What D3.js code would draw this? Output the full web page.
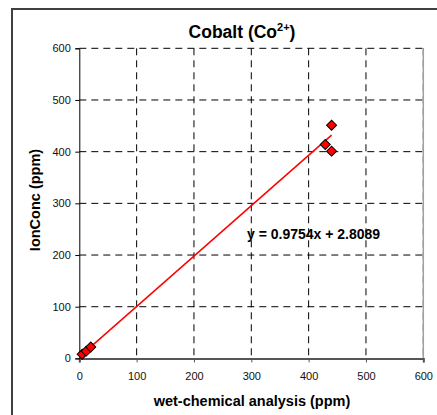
<!DOCTYPE html>
<html>
<head>
<meta charset="utf-8">
<script src="https://cdn.jsdelivr.net/npm/d3@7"></script>
<style>
  body { margin: 0; background: #fff; }
  svg { display: block; font-family: Arial, "Liberation Sans", sans-serif; }
</style>
</head>
<body>
<script>
// measured points (wet-chemical vs ion-selective)
var wetChem = [5, 12, 20, 429, 440, 440];
var ionConc = [8, 14, 22, 414, 401, 451];
var xTicks = [0, 100, 200, 300, 400, 500, 600];
var yTicks = [0, 100, 200, 300, 400, 500, 600];
var slope = 0.9754, intercept = 2.8089;

var width = 437, height = 415;
var svg = d3.select("body").append("svg").attr("width", width).attr("height", height);

// chart area frame (runs off the right/bottom edge)
svg.append("rect")
  .attr("x", 12).attr("y", 9)
  .attr("width", 440).attr("height", 420)
  .attr("fill", "#fff").attr("stroke", "#404040").attr("stroke-width", 2);

var x = d3.scaleLinear().domain([0, 600]).range([79.3, 423.3]);
var y = d3.scaleLinear().domain([0, 600]).range([358.4, 48.3]);

// grid
var grid = svg.append("g").attr("stroke", "#000").attr("stroke-width", 1).attr("stroke-dasharray", "7,5");
grid.selectAll(".gx").data(xTicks.slice(1)).join("line")
  .attr("x1", (d) => x(d)).attr("x2", (d) => x(d))
  .attr("y1", y(600)).attr("y2", y(0));
grid.selectAll(".gy").data(yTicks.slice(1)).join("line")
  .attr("x1", x(0)).attr("x2", x(600))
  .attr("y1", (d) => y(d)).attr("y2", (d) => y(d));

// right edge of plot area
svg.append("line")
  .attr("x1", x(600)).attr("x2", x(600)).attr("y1", y(600)).attr("y2", y(0))
  .attr("stroke", "#a0a0a0").attr("stroke-width", 1.5);

// axes
var xAxis = svg.append("g")
  .attr("transform", `translate(0,${y(0)})`)
  .call(d3.axisBottom(x).tickValues(xTicks).tickSize(4).tickPadding(9.5));
xAxis.select(".domain").attr("stroke", "#555").attr("stroke-width", 2);
xAxis.selectAll(".tick line").attr("stroke", "#555");

var yAxis = svg.append("g")
  .attr("transform", `translate(${x(0)},0)`)
  .call(d3.axisLeft(y).tickValues(yTicks).tickSize(4).tickPadding(4.5));
yAxis.select(".domain").attr("stroke", "#000").attr("stroke-width", 1);

svg.selectAll(".tick text")
  .attr("font-family", "Arial, 'Liberation Sans', sans-serif")
  .attr("font-size", 11).attr("fill", "#111");

// trendline across the data range
var xMin = d3.min(wetChem), xMax = d3.max(wetChem);
svg.append("line")
  .attr("x1", x(xMin)).attr("y1", y(slope * xMin + intercept))
  .attr("x2", x(xMax)).attr("y2", y(slope * xMax + intercept))
  .attr("stroke", "#ff0000").attr("stroke-width", 1.5);

// diamond markers
var pts = wetChem.map((d, i) => [d, ionConc[i]]);
svg.append("g").selectAll("path").data(pts).join("path")
  .attr("d", d3.symbol().type(d3.symbolSquare).size(50))
  .attr("transform", (d) => `translate(${x(d[0])},${y(d[1])}) rotate(45)`)
  .attr("fill", "#ff0000").attr("stroke", "#000").attr("stroke-width", 1);

// equation label
svg.append("text")
  .attr("x", 247).attr("y", 239)
  .attr("font-size", 14).attr("font-weight", "bold")
  .text("y = 0.9754x + 2.8089");

// title
var title = svg.append("text")
  .attr("x", 242).attr("y", 37.5)
  .attr("text-anchor", "middle")
  .attr("font-size", 17.5).attr("font-weight", "bold");
title.append("tspan").text("Cobalt (Co");
title.append("tspan").attr("dy", -7).attr("font-size", 11).text("2+");
title.append("tspan").attr("dy", 7).text(")");

// axis titles
svg.append("text")
  .attr("x", 252).attr("y", 406)
  .attr("text-anchor", "middle")
  .attr("font-size", 14.5).attr("font-weight", "bold")
  .text("wet-chemical analysis (ppm)");

svg.append("text")
  .attr("transform", "translate(39.5,200) rotate(-90)")
  .attr("text-anchor", "middle")
  .attr("font-size", 14.5).attr("font-weight", "bold")
  .text("IonConc (ppm)");
</script>
</body>
</html>
